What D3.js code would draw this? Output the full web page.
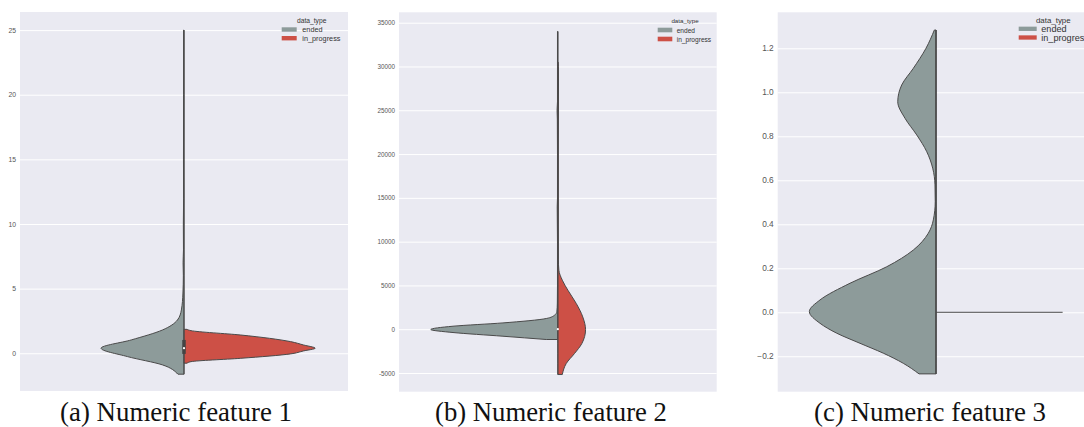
<!DOCTYPE html>
<html>
<head>
<meta charset="utf-8">
<script src="https://cdn.jsdelivr.net/npm/d3@7"></script>
<style>
  body { margin: 0; background: #ffffff; }
  svg { display: block; }
</style>
</head>
<body>
<svg id="chart" width="1084" height="427"></svg>
<script>
// Split violins of three numeric features, grouped by data_type.
const seriesNames = ["ended", "in_progress"];
const seriesColors = ["#8d9b9a", "#cd5046"];
const legendTitle = "data_type";
const captions = ["(a) Numeric feature 1", "(b) Numeric feature 2", "(c) Numeric feature 3"];

// Tick values of each value axis
const ticksA = [0, 5, 10, 15, 20, 25];
const ticksB = [-5000, 0, 5000, 10000, 15000, 20000, 25000, 30000, 35000];
const ticksC = [-0.2, 0, 0.2, 0.4, 0.6, 0.8, 1.0, 1.2];

// Density profiles: [value, relative density] (1 = widest half in the panel)
const endedA = [
  [-1.62, 0.046], [-0.90, 0.164], [-0.26, 0.430], [0.39, 0.632], [1.03, 0.402],
  [1.80, 0.164], [2.57, 0.050], [3.35, 0.020], [4.66, 0.008], [6, 0.005],
  [7, 0.007], [8, 0.004], [10, 0.005], [12, 0.003], [15, 0.004], [20, 0.003], [25, 0.003]
];
const progressA = [
  [-0.77, 0.023], [-0.65, 0.053], [-0.39, 0.433], [-0.05, 0.812], [0.18, 0.911],
  [0.39, 1.0], [0.64, 0.911], [0.90, 0.812], [1.41, 0.433], [1.75, 0.053], [1.85, 0.023]
];
const endedB = [
  [-1176, 0.091], [-800, 0.432], [-377, 0.825], [-34, 1.0], [343, 0.825],
  [720, 0.432], [1222, 0.091], [1600, 0.026], [1975, 0.008], [3000, 0.004],
  [5000, 0.003], [10000, 0.003], [14000, 0.005], [15000, 0.003], [20000, 0.003],
  [24000, 0.004], [25000, 0.006], [26000, 0.003], [30000, 0.003], [34000, 0.003]
];
const progressB = [
  [-5173, 0.035], [-3917, 0.066], [-2775, 0.131], [-1633, 0.189], [-34, 0.218],
  [1405, 0.196], [2935, 0.145], [4454, 0.079], [5600, 0.035], [6740, 0.008],
  [8000, 0.004], [12000, 0.003], [20000, 0.003], [28000, 0.005], [30000, 0.004], [30500, 0.002]
];
const endedC = [
  [-0.280, 0.134], [-0.232, 0.258], [-0.186, 0.416], [-0.141, 0.600], [-0.095, 0.784],
  [-0.050, 0.916], [0.003, 1.0], [0.056, 0.916], [0.132, 0.679], [0.207, 0.389],
  [0.283, 0.179], [0.359, 0.061], [0.420, 0.021], [0.503, 0.006], [0.579, 0.008],
  [0.655, 0.026], [0.730, 0.073], [0.806, 0.152], [0.882, 0.245], [0.957, 0.302],
  [1.033, 0.271], [1.109, 0.179], [1.200, 0.079], [1.283, 0.013]
];
// in_progress of feature 3 is constant (all zeros): a degenerate violin
const progressC = [[0, 1.0]];

// Inner box: [q1, median, q3]
const boxA = [-0.05, 0.39, 1.03];
const boxB = [0, 0, 0];
const boxC = [0, 0, 0];

const panels = [
  { left: 20, right: 348, top: 12, bottom: 391, domain: [-2.92, 26.4], ticks: ticksA,
    fmt: d => String(d), tickFont: 6.8, ended: endedA, progress: progressA, box: boxA,
    legend: { titleX: 311.7, titleY: 20.7, titleFont: 6.7, px: 281.7, pw: 15, ph: 4.4, y0: 29.5, step: 8.7, lx: 302.3, font: 7.3 },
    caption: 176 },
  { left: 399, right: 716.7, top: 12.3, bottom: 391.7, domain: [-7135, 36188], ticks: ticksB,
    fmt: d => String(d), tickFont: 6.3, ended: endedB, progress: progressB, box: boxB,
    legend: { titleX: 685, titleY: 20.7, titleFont: 6.2, px: 657.7, pw: 14.6, ph: 4.6, y0: 30, step: 9, lx: 676.7, font: 6.6 },
    caption: 551 },
  { left: 777.7, right: 1094.3, top: 12.3, bottom: 391.7, domain: [-0.361, 1.3636], ticks: ticksC,
    fmt: d => d3.format(".1f")(d), tickFont: 8.3, ended: endedC, progress: progressC, box: boxC,
    legend: { titleX: 1053.3, titleY: 20.7, titleFont: 7.9, px: 1018.7, pw: 18, ph: 4.3, y0: 28.8, step: 8.7, lx: 1041.3, font: 9.1 },
    caption: 930 }
];

const svg = d3.select("#chart");
const outline = "#4a4a4a";

panels.forEach((p, i) => {
  const g = svg.append("g");
  const y = d3.scaleLinear().domain(p.domain).range([p.bottom, p.top]);
  const x = d3.scaleBand().domain(["feature"]).range([p.left, p.right]).padding(0);
  const cx = x("feature") + x.bandwidth() / 2;
  const w = d3.scaleLinear().domain([0, 1]).range([0, x.bandwidth() * 0.4]);

  // plot background
  g.append("rect")
    .attr("x", p.left).attr("y", p.top)
    .attr("width", p.right - p.left).attr("height", p.bottom - p.top)
    .attr("fill", "#eaeaf2");

  // value axis with white grid lines
  const axis = d3.axisLeft(y).tickValues(p.ticks).tickFormat(p.fmt)
    .tickSize(-(p.right - p.left)).tickPadding(4);
  const ax = g.append("g").attr("transform", `translate(${p.left},0)`).call(axis);
  ax.select(".domain").remove();
  ax.selectAll(".tick line").attr("stroke", "#ffffff").attr("stroke-width", 1);
  ax.selectAll(".tick text")
    .attr("fill", "#555555")
    .style("font-family", "'Liberation Sans', Arial, sans-serif")
    .style("font-size", p.tickFont + "px");

  // left half: ended
  const leftArea = d3.area().curve(d3.curveMonotoneY)
    .y(d => y(d[0])).x0(cx).x1(d => cx - w(d[1]));
  g.append("path").datum(p.ended)
    .attr("d", leftArea)
    .attr("fill", seriesColors[0])
    .attr("stroke", outline).attr("stroke-width", 1).attr("stroke-linejoin", "round");

  // right half: in_progress
  if (p.progress.length > 1) {
    const rightArea = d3.area().curve(d3.curveMonotoneY)
      .y(d => y(d[0])).x0(cx).x1(d => cx + w(d[1]));
    g.append("path").datum(p.progress)
      .attr("d", rightArea)
      .attr("fill", seriesColors[1])
      .attr("stroke", outline).attr("stroke-width", 1).attr("stroke-linejoin", "round");
  } else {
    const d = p.progress[0];
    g.append("line")
      .attr("x1", cx).attr("x2", cx + w(d[1]))
      .attr("y1", y(d[0])).attr("y2", y(d[0]))
      .attr("stroke", outline).attr("stroke-width", 1);
  }

  // inner box: whisker over full range, IQR bar and median dot
  const all = p.ended.concat(p.progress).map(d => d[0]);
  g.append("line")
    .attr("x1", cx).attr("x2", cx)
    .attr("y1", y(d3.min(all))).attr("y2", y(d3.max(all)))
    .attr("stroke", outline).attr("stroke-width", i === 2 ? 1.6 : 1);
  const [q1, med, q3] = p.box;
  if (q3 > q1) {
    g.append("rect")
      .attr("x", cx - 1.75).attr("width", 3.5)
      .attr("y", y(q3)).attr("height", y(q1) - y(q3))
      .attr("fill", "#444444");
  }
  if (i < 2) {
    g.append("circle").attr("cx", cx).attr("cy", y(med)).attr("r", 1.1).attr("fill", "#ffffff");
  }

  // legend
  const L = p.legend;
  g.append("text")
    .attr("x", L.titleX).attr("y", L.titleY)
    .attr("text-anchor", "middle").attr("dominant-baseline", "central")
    .attr("fill", "#333333")
    .style("font-family", "'Liberation Sans', Arial, sans-serif")
    .style("font-size", L.titleFont + "px")
    .text(legendTitle);
  seriesNames.forEach((name, k) => {
    const cy = L.y0 + k * L.step;
    g.append("rect")
      .attr("x", L.px).attr("y", cy - L.ph / 2)
      .attr("width", L.pw).attr("height", L.ph)
      .attr("fill", seriesColors[k]);
    g.append("text")
      .attr("x", L.lx).attr("y", cy)
      .attr("dominant-baseline", "central")
      .attr("fill", "#333333")
      .style("font-family", "'Liberation Sans', Arial, sans-serif")
      .style("font-size", L.font + "px")
      .text(name);
  });

  // caption below the panel
  const cap = svg.append("text")
    .attr("x", p.caption).attr("y", 420.5)
    .attr("text-anchor", "middle")
    .attr("fill", "#111111")
    .style("font-family", "'Liberation Serif', 'DejaVu Serif', serif")
    .style("font-size", "21px")
    .text(captions[i]);
  const len = cap.node().getComputedTextLength();
  cap.style("font-size", (21 * 232 / len).toFixed(2) + "px");
});
</script>
</body>
</html>
